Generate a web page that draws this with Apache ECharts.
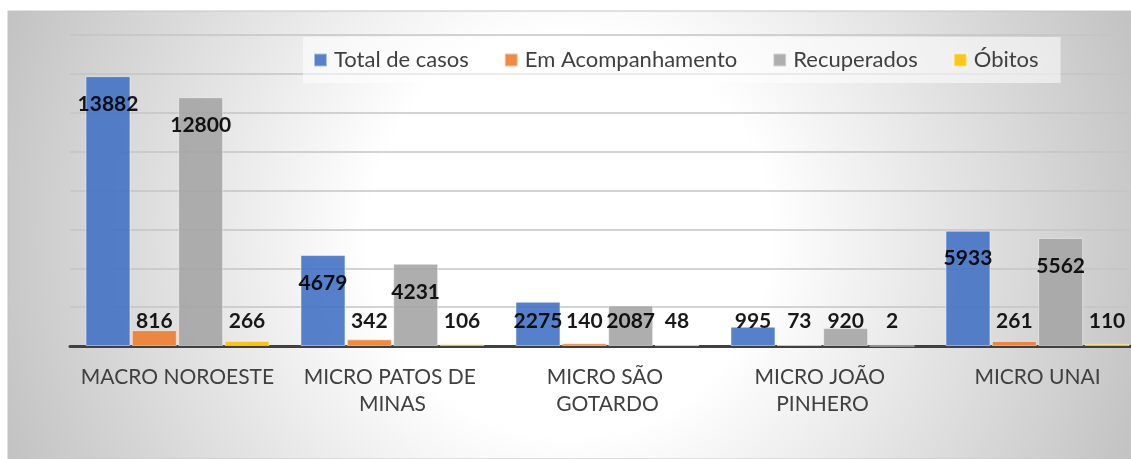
<!DOCTYPE html>
<html>
<head>
<meta charset="utf-8">
<script src="https://cdn.jsdelivr.net/npm/echarts@6/dist/echarts.min.js"></script>
<style>
  html, body { margin: 0; padding: 0; background: #ffffff; }
  #chart { width: 1131px; height: 459px; }
</style>
</head>
<body>
<div id="chart"></div>
<script>
  // dados do grafico
  var regioes = ['MACRO NOROESTE', 'MICRO PATOS DE MINAS', 'MICRO SÃO GOTARDO', 'MICRO JOÃO PINHERO', 'MICRO UNAI']
  var totalCasos = [13882, 4679, 2275, 995, 5933]
  var emAcompanhamento = [816, 342, 140, 73, 261]
  var recuperados = [12800, 4231, 2087, 920, 5562]
  var obitos = [266, 106, 48, 2, 110]

  var fonte = 'Lato, "Open Sans", sans-serif'

  // rotulo dentro do topo para barras altas, senao fica logo acima do eixo
  function rotulos (valores) {
    return valores.map(function (v) {
      if (v >= 2650) {
        return { value: v, label: { position: 'insideTop', distance: 18 } }
      }
      return { value: v, label: { position: 'insideBottom', distance: 15 } }
    })
  }

  function serie (nome, cor, valores) {
    return {
      name: nome,
      type: 'bar',
      data: rotulos(valores),
      barGap: '3%',
      barCategoryGap: '14.4%',
      itemStyle: {
        color: cor,
        opacity: 0.9,
        borderColor: 'rgba(255,255,255,0.55)',
        borderWidth: 1
      },
      label: {
        show: true,
        color: '#000000',
        fontFamily: fonte,
        fontWeight: 'bold',
        fontSize: 21,
        lineHeight: 20
      }
    }
  }

  var chart = echarts.init(document.getElementById('chart'), null, { renderer: 'canvas' })

  var option = {
    animation: false,
    graphic: [
      {
        type: 'rect',
        z: -100,
        shape: { x: 8, y: 11, width: 1131 - 8, height: 459 - 11 },
        style: {
          fill: {
            type: 'radial',
            x: 0.5, y: 0.5, r: 1.35,
            colorStops: [
              { offset: 0, color: '#ffffff' },
              { offset: 0.33, color: '#ffffff' },
              { offset: 1, color: '#c2c2c2' }
            ]
          },
          stroke: '#c4c4c4',
          lineWidth: 1
        },
        silent: true
      }
    ],
    legend: {
      left: 303,
      top: 37,
      padding: [12, 22, 12, 10],
      backgroundColor: 'rgba(255,255,255,0.55)',
      itemWidth: 13,
      itemHeight: 13,
      itemGap: 35,
      icon: 'rect',
      textStyle: {
        color: '#404040',
        fontFamily: fonte,
        fontSize: 22,
        lineHeight: 22,
        padding: [0, 0, 0, 2]
      },
      data: ['Total de casos', 'Em Acompanhamento', 'Recuperados', 'Óbitos']
    },
    grid: {
      left: 70,
      right: -14,
      top: 35,
      bottom: 113,
      containLabel: false,
      outerBoundsMode: 'none'
    },
    xAxis: {
      type: 'category',
      data: regioes,
      axisTick: { show: false },
      axisLine: { lineStyle: { color: '#404040', width: 3 } },
      axisLabel: {
        color: '#404040',
        fontFamily: fonte,
        fontSize: 21,
        lineHeight: 27,
        margin: 18,
        width: 200,
        overflow: 'break',
        interval: 0
      }
    },
    yAxis: {
      type: 'value',
      min: 0,
      max: 16000,
      interval: 2000,
      axisLabel: { show: false },
      axisLine: { show: false },
      axisTick: { show: false },
      splitLine: { lineStyle: { color: '#c4c4c4', width: 1.5 } }
    },
    series: [
      serie('Total de casos', '#4472c4', totalCasos),
      serie('Em Acompanhamento', '#ed7d31', emAcompanhamento),
      serie('Recuperados', '#a5a5a5', recuperados),
      serie('Óbitos', '#ffc000', obitos)
    ]
  }

  chart.setOption(option)
</script>
</body>
</html>
